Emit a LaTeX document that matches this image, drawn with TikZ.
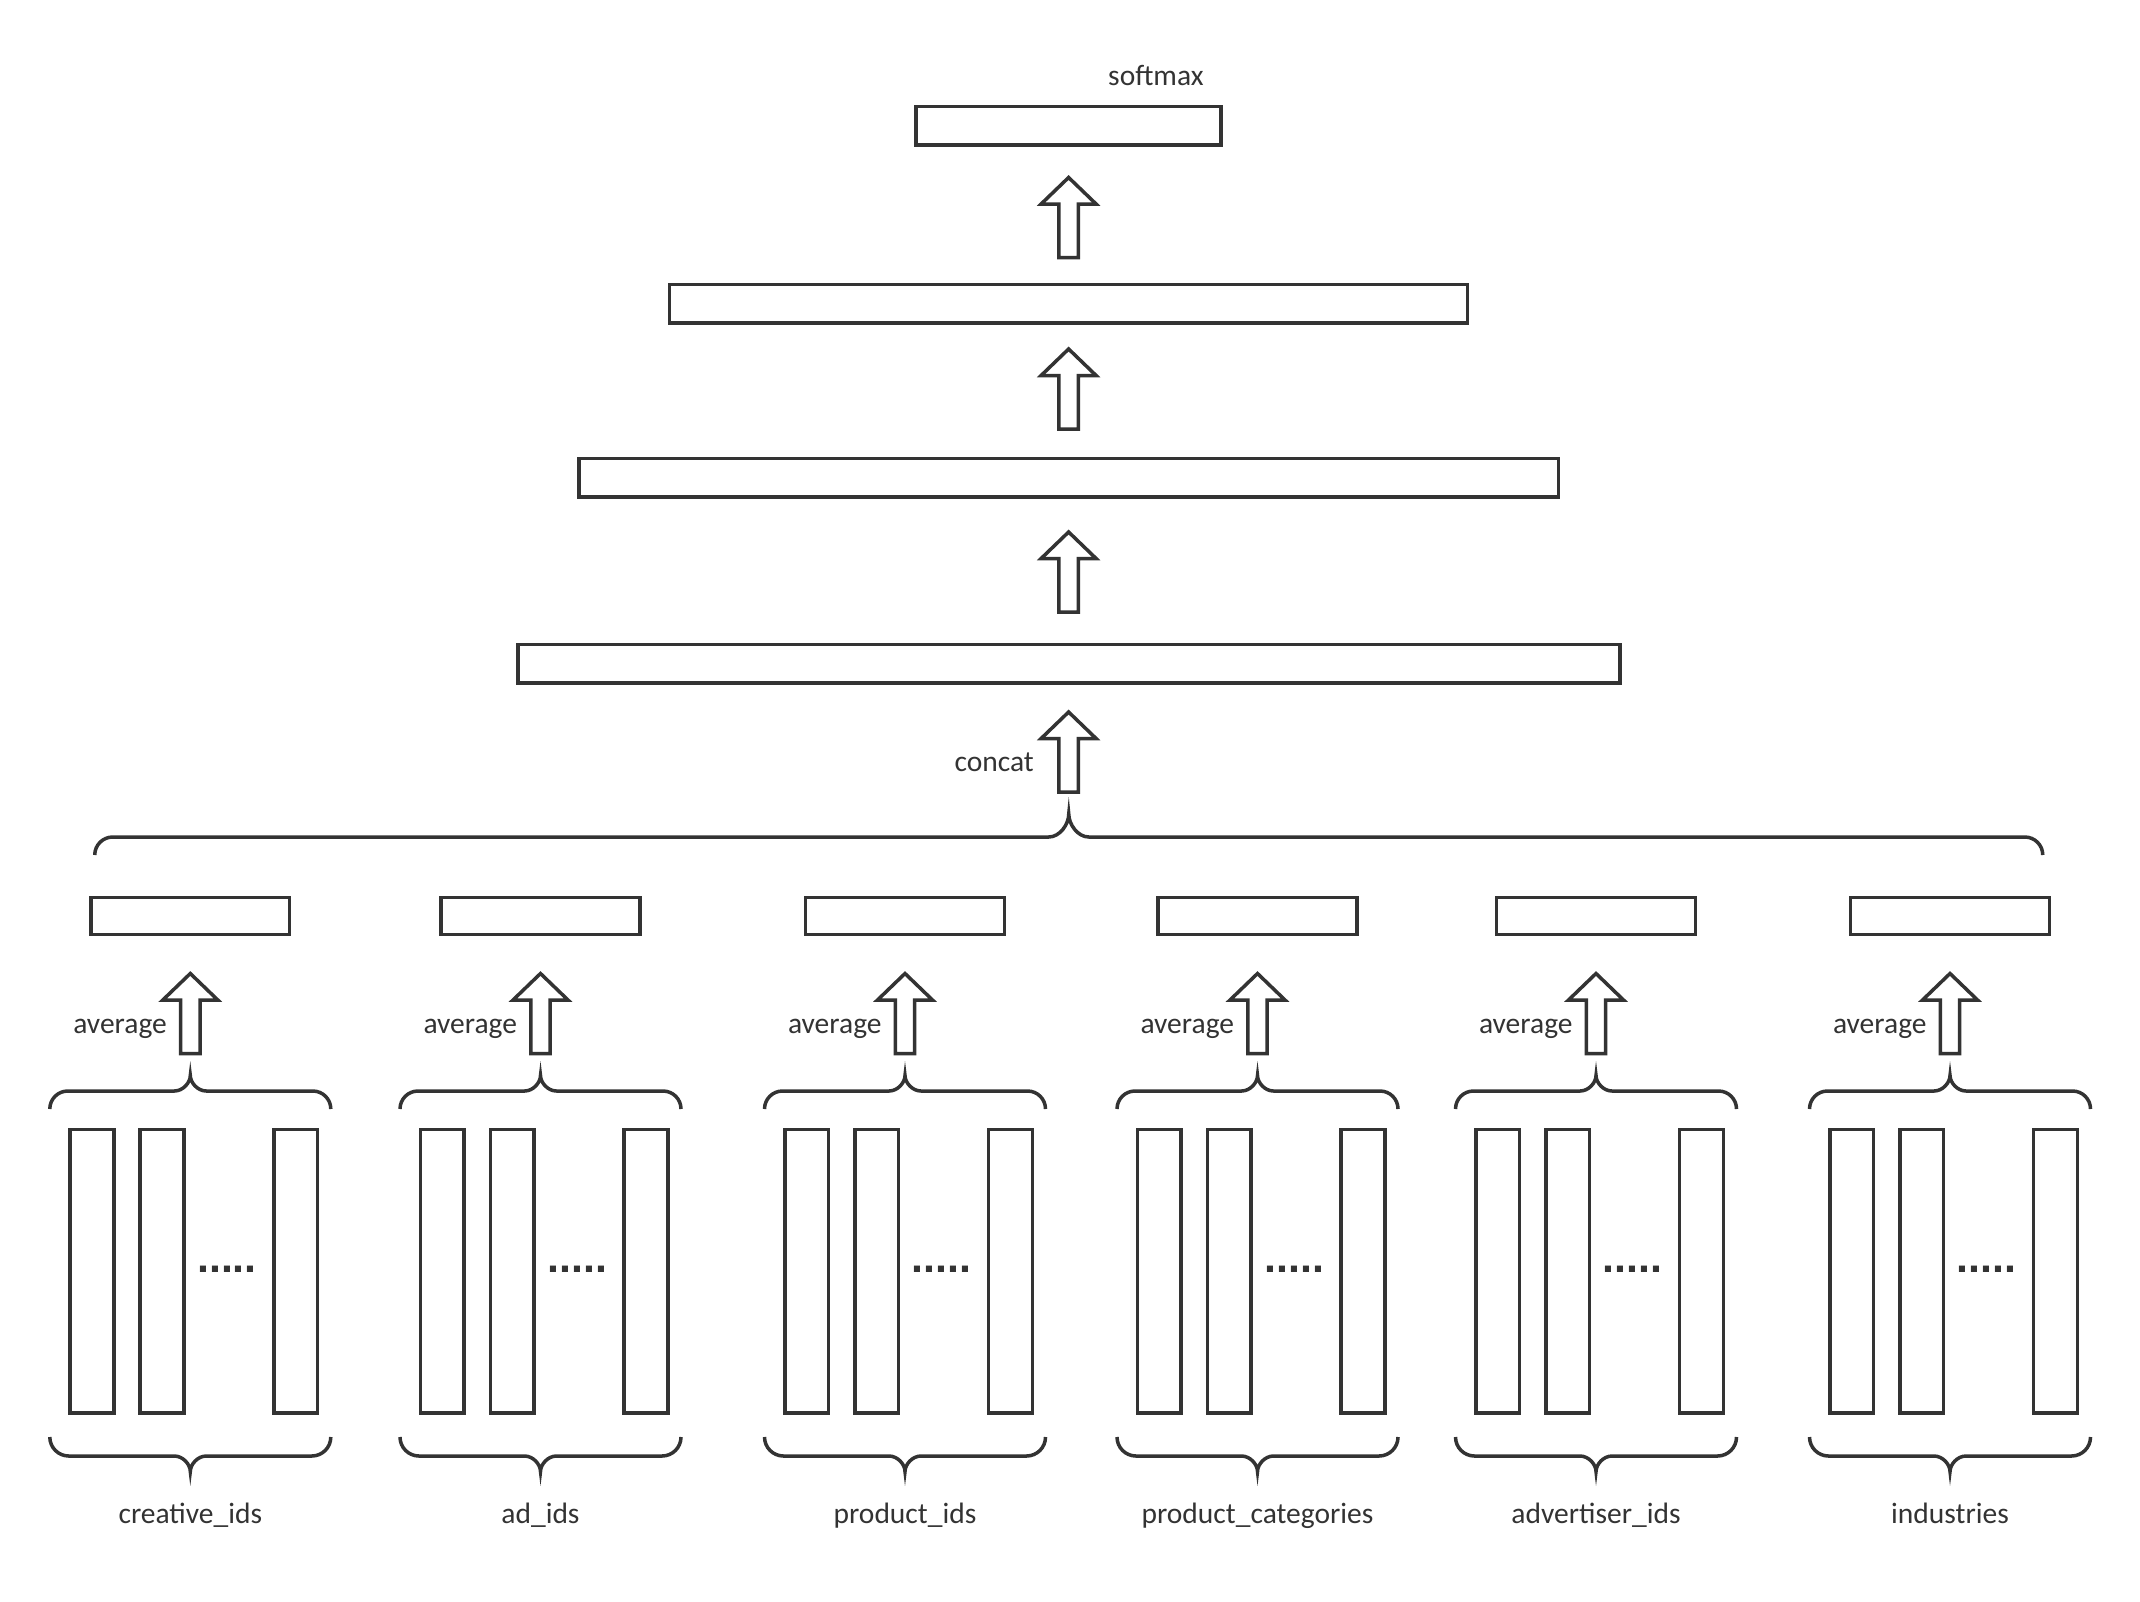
\documentclass[tikz,border=0pt]{standalone}
\usepackage{fontspec}
\setmainfont{Carlito}
\newfontfamily\dotfont{Liberation Sans}
\usetikzlibrary{calc}
\definecolor{ink}{HTML}{333333}
\tikzset{
  layer/.style={rectangle, draw=ink, line width=3.5pt, inner sep=0pt, minimum height=38.5pt},
  poolbox/.style={rectangle, draw=ink, line width=3.5pt, inner sep=0pt, minimum height=36.6pt, minimum width=198.6pt},
  embbar/.style={rectangle, draw=ink, line width=3.5pt, inner sep=0pt, minimum height=283.4pt, minimum width=43.8pt},
  lbl/.style={text=ink, inner sep=0pt, font=\fontsize{29.5}{35}\selectfont},
  dotstext/.style={text=ink, inner sep=0pt, font=\dotfont\bfseries\fontsize{43}{43}\selectfont},
  pics/uparrow/.style={code={
    \draw[ink, line width=3.5pt, line join=miter]
      (0,0) -- (27.5,26.5) -- (9.7,26.5) -- (9.7,80) -- (-9.7,80)
      -- (-9.7,26.5) -- (-27.5,26.5) -- cycle;
  }},
  pics/brace/.style n args={4}{code={
    \draw[ink, line width=3.5pt]
      (-#1,#2+#3) .. controls (-#1,#2+0.448*#3) and (-#1+0.448*#3,#2) .. (-#1+#3,#2)
      -- (-#4,#2) .. controls (-0.448*#4,#2) and (0,0.448*#2) .. (0,0)
      .. controls (0,0.448*#2) and (0.448*#4,#2) .. (#4,#2)
      -- (#1-#3,#2) .. controls (#1-0.448*#3,#2) and (#1,#2+0.448*#3) .. (#1,#2+#3);
  }}
}
\begin{document}
\begin{tikzpicture}[x=1pt,y=-1pt]
\useasboundingbox (0,0) rectangle (2140,1601);

% top stack
\node[lbl, anchor=base west] (smx) at (1108,85) {softmax};
\node[layer, minimum width=305.4pt] (boxA) at (1068.5,125.5) {};
\coordinate (arrA) at (1068.6,177.5);
\pic at (arrA) {uparrow};
\node[layer, minimum width=798pt] (boxB) at (1068.7,303.7) {};
\coordinate (arrB) at (1068.6,349);
\pic at (arrB) {uparrow};
\node[layer, minimum width=979.3pt] (boxC) at (1068.7,477.5) {};
\coordinate (arrC) at (1068.6,532);
\pic at (arrC) {uparrow};
\node[layer, minimum width=1101.7pt] (boxD) at (1069,663.7) {};
\coordinate (arrD) at (1068.6,712);
\pic at (arrD) {uparrow};
\node[lbl, anchor=base east] (concat) at (1034,771) {concat};
\coordinate (bigbrace) at (1068.75,814);
\pic at (bigbrace) {brace={974}{23}{18}{20}};

% feature groups
\foreach \cx/\name/\i in {190.3/creative\_ids/1, 540.5/ad\_ids/2, 905/product\_ids/3,
                          1257.5/product\_categories/4, 1596/advertiser\_ids/5, 1950/industries/6}{
  \node[poolbox] (pool\i) at (\cx,916) {};
  \coordinate (avgarr\i) at (\cx,973.5);
  \pic at (avgarr\i) {uparrow};
  \node[lbl, anchor=base east] (avg\i) at (\cx-23.3,1033) {average};
  \coordinate (ub\i) at (\cx,1075.5);
  \pic at (ub\i) {brace={140.5}{15.5}{18}{16}};
  \node[embbar] (bara\i) at (\cx-98.3,1271.2) {};
  \node[embbar] (barb\i) at (\cx-28.3,1271.2) {};
  \node[embbar] (barc\i) at (\cx+105.5,1271.2) {};
  \node[dotstext, anchor=base] (dots\i) at (\cx+36.7,1272.5) {.....};
  \coordinate (lb\i) at (\cx,1471.5);
  \pic[yscale=-1] at (lb\i) {brace={140.5}{15.5}{19}{16}};
  \node[lbl, anchor=base] (lab\i) at (\cx,1523) {\name};
}
\end{tikzpicture}
\end{document}
